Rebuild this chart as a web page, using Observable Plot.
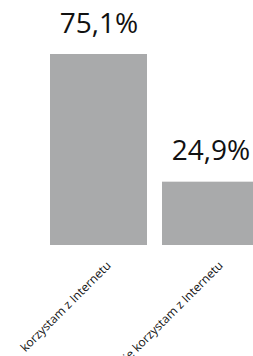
<!DOCTYPE html>
<html><head><meta charset="utf-8">
<script src="https://cdn.jsdelivr.net/npm/d3@7"></script>
<script src="https://cdn.jsdelivr.net/npm/@observablehq/plot@0.6"></script>
<style>body{margin:0;background:#fff;overflow:hidden}</style>
</head><body><div id="chart"></div>
<script>
const categories = ["korzystam z Internetu", "nie korzystam z Internetu"];
const values = [75.1, 24.9];
const valueLabels = ["75,1%", "24,9%"];
const data = categories.map((c, i) => ({category: c, value: values[i], label: valueLabels[i]}));

const chart = Plot.plot({
  width: 253,
  height: 356,
  margin: 0,
  style: {background: "#fff", fontFamily: "'Open Sans', sans-serif"},
  x: {domain: categories, range: [42.5, 266.5], paddingInner: 0.134, paddingOuter: 0.067, axis: null},
  y: {domain: [0, 75.1], range: [245, 54], axis: null},
  marks: [
    Plot.barY(data, {x: "category", y: "value", fill: "#a9aaab"}),
    Plot.text(data, {x: "category", y: "value", text: "label", fontSize: 28, fill: "#111", lineAnchor: "bottom", dy: -22}),
    Plot.text(data, {x: "category", y: () => 0, text: "category", rotate: -45, textAnchor: "end", lineAnchor: "middle", dx: 10, dy: 18, fontSize: 12, fill: "#111"})
  ]
});
document.getElementById("chart").appendChild(chart);
</script>
</body></html>
